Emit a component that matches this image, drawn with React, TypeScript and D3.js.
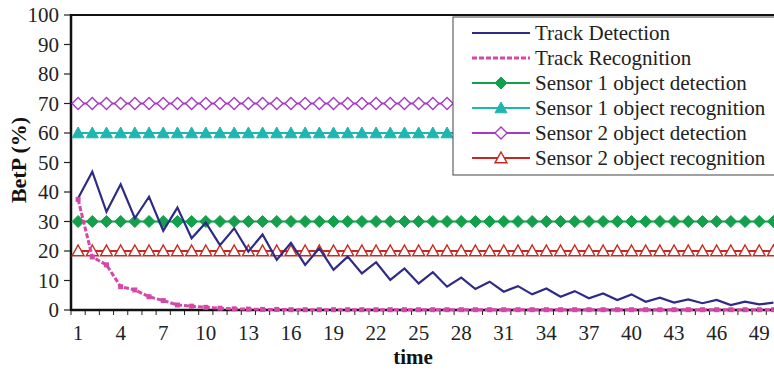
import React from "react";
import * as d3 from "d3";

const times: number[] = Array.from({ length: 50 }, (_, i) => i + 1);

const trackDetection: number[] = [
  37.9, 46.9, 33.3, 42.6, 31.1, 38.4, 26.8, 34.7, 24.3, 29.6,
  22.0, 27.7, 19.8, 25.6, 17.0, 22.8, 15.3, 20.9, 13.6, 18.1,
  12.4, 16.2, 10.2, 14.1, 9.0, 12.8, 7.9, 11.0, 7.1, 9.6,
  6.2, 8.1, 5.3, 7.3, 4.5, 6.4, 4.0, 5.6, 3.4, 5.3,
  2.8, 4.2, 2.5, 3.6, 2.3, 3.4, 1.7, 2.8, 1.9, 2.5,
];

const trackRecognition: number[] = [
  37.5, 18.0, 15.3, 7.9, 6.8, 4.5, 3.2, 1.7, 1.3, 0.9,
  0.6, 0.4, 0.3, 0.2, 0.2, 0.1, 0.1, 0.1, 0.1, 0.1,
  0.1, 0.1, 0.1, 0.1, 0.1, 0.1, 0.1, 0.1, 0.1, 0.1,
  0.1, 0.1, 0.1, 0.1, 0.1, 0.1, 0.1, 0.1, 0.1, 0.1,
  0.1, 0.1, 0.1, 0.1, 0.1, 0.1, 0.1, 0.1, 0.1, 0.1,
];

const sensor1Detection: number[] = times.map(() => 30);
const sensor1Recognition: number[] = times.map(() => 60);
const sensor2Detection: number[] = times.map(() => 70);
const sensor2Recognition: number[] = times.map(() => 20);

const yTicks: number[] = [0, 10, 20, 30, 40, 50, 60, 70, 80, 90, 100];
const xTickLabels: number[] = [1, 4, 7, 10, 13, 16, 19, 22, 25, 28, 31, 34, 37, 40, 43, 46, 49];

const legendLabels: string[] = [
  "Track Detection",
  "Track Recognition",
  "Sensor 1 object detection",
  "Sensor 1 object recognition",
  "Sensor 2 object detection",
  "Sensor 2 object recognition",
];

const FONT = "'Liberation Serif', 'Times New Roman', serif";

type Marker = "none" | "square" | "diamondFilled" | "triFilled" | "diamondOpen" | "triOpen";

const C_TD = "#2e2a86";
const C_TR = "#d448a8";
const C_S1D = "#12a04a";
const C_S1R = "#1fb5b0";
const C_S2D = "#a63ac4";
const C_S2R = "#c42a22";

function MarkerShape({ type, x, y, color }: { type: Marker; x: number; y: number; color: string }) {
  if (type === "diamondFilled" || type === "diamondOpen") {
    const r = 6;
    const d = `M${x},${y - r}L${x + r},${y}L${x},${y + r}L${x - r},${y}Z`;
    return type === "diamondFilled" ? (
      <path d={d} fill={color} stroke={color} strokeWidth={1} />
    ) : (
      <path d={d} fill="white" stroke={color} strokeWidth={1.4} />
    );
  }
  if (type === "triFilled" || type === "triOpen") {
    const r = 6;
    const d = `M${x},${y - r}L${x + r},${y + r * 0.8}L${x - r},${y + r * 0.8}Z`;
    return type === "triFilled" ? (
      <path d={d} fill={color} stroke={color} strokeWidth={1} />
    ) : (
      <path d={d} fill="white" stroke={color} strokeWidth={1.4} />
    );
  }
  if (type === "square") {
    return <rect x={x - 2.5} y={y - 2.5} width={5} height={5} fill={color} stroke="none" />;
  }
  return null;
}

export default function App() {
  const W = 774;
  const H = 374;
  const x0 = 71;
  const step = 14.19;
  const x = d3.scaleLinear().domain([0.5, 50.5]).range([x0, x0 + 50 * step]);
  const y = d3.scaleLinear().domain([0, 100]).range([310, 15]);

  const line = d3
    .line<number>()
    .x((_, i) => x(times[i]))
    .y((d) => y(d));

  const series: { values: number[]; color: string; marker: Marker; width: number; dash?: string }[] = [
    { values: sensor2Detection, color: C_S2D, marker: "diamondOpen", width: 1.8 },
    { values: sensor1Recognition, color: C_S1R, marker: "triFilled", width: 1.8 },
    { values: sensor1Detection, color: C_S1D, marker: "diamondFilled", width: 1.8 },
    { values: sensor2Recognition, color: C_S2R, marker: "triOpen", width: 1.8 },
    { values: trackDetection, color: C_TD, marker: "none", width: 2.2 },
    { values: trackRecognition, color: C_TR, marker: "square", width: 3, dash: "5,2" },
  ];

  const legendItems: { label: string; color: string; marker: Marker; dash?: string; width: number }[] = [
    { label: legendLabels[0], color: C_TD, marker: "none", width: 2 },
    { label: legendLabels[1], color: C_TR, marker: "none", dash: "5,2", width: 3 },
    { label: legendLabels[2], color: C_S1D, marker: "diamondFilled", width: 1.8 },
    { label: legendLabels[3], color: C_S1R, marker: "triFilled", width: 1.8 },
    { label: legendLabels[4], color: C_S2D, marker: "diamondOpen", width: 1.8 },
    { label: legendLabels[5], color: C_S2R, marker: "triOpen", width: 1.8 },
  ];

  const plotRight = x(50.5);

  return (
    <svg
      width={W}
      height={H}
      style={{ position: "absolute", left: 0, top: 0, background: "white" }}
      fontFamily={FONT}
    >
      <rect x={0} y={0} width={W} height={H} fill="white" />
      {yTicks.map((t) => (
        <g key={"y" + t}>
          <line x1={x0 - 7} x2={x0} y1={y(t)} y2={y(t)} stroke="#222" strokeWidth={1.2} />
          <text x={x0 - 12} y={y(t)} dy="0.35em" textAnchor="end" fontSize={21} fill="#222">
            {t}
          </text>
        </g>
      ))}
      {d3.range(0, 51).map((i) => (
        <line
          key={"xt" + i}
          x1={x(i + 0.5)}
          x2={x(i + 0.5)}
          y1={y(0)}
          y2={y(0) + 5}
          stroke="#222"
          strokeWidth={1}
        />
      ))}
      {xTickLabels.map((t) => (
        <text key={"xl" + t} x={x(t)} y={333} dy="0.35em" textAnchor="middle" fontSize={21} fill="#222">
          {t}
        </text>
      ))}
      <line x1={x0} x2={plotRight} y1={y(0)} y2={y(0)} stroke="#111" strokeWidth={2.5} />
      <line x1={x0} x2={x0} y1={y(100) - 1} y2={y(0) + 1} stroke="#111" strokeWidth={2.5} />
      <line x1={x0} x2={plotRight} y1={y(100)} y2={y(100)} stroke="#111" strokeWidth={2.2} />

      {series.map((s, si) => (
        <g key={"s" + si}>
          <path
            d={line(s.values) || ""}
            fill="none"
            stroke={s.color}
            strokeWidth={s.width}
            strokeDasharray={s.dash}
            strokeLinejoin="miter"
          />
          {s.marker !== "none" &&
            s.values.map((v, i) => (
              <MarkerShape key={i} type={s.marker} x={x(times[i])} y={y(v)} color={s.color} />
            ))}
        </g>
      ))}

      <rect x={453} y={17} width={340} height={158} fill="white" stroke="#444" strokeWidth={1} />
      {legendItems.map((it, i) => {
        const cy = 33 + i * 25;
        return (
          <g key={"lg" + i}>
            <line x1={472} x2={530} y1={cy} y2={cy} stroke={it.color} strokeWidth={it.width} strokeDasharray={it.dash} />
            <MarkerShape type={it.marker} x={501} y={cy} color={it.color} />
            <text x={535} y={cy} dy="0.35em" fontSize={21} fill="#222">
              {it.label}
            </text>
          </g>
        );
      })}

      <text x={413} y={357} dy="0.35em" textAnchor="middle" fontSize={21} fontWeight="bold" fill="#111">
        time
      </text>
      <text
        transform={`translate(18,160) rotate(-90)`}
        textAnchor="middle"
        dy="0.35em"
        fontSize={22}
        fontWeight="bold"
        fill="#111"
      >
        BetP (%)
      </text>
    </svg>
  );
}
